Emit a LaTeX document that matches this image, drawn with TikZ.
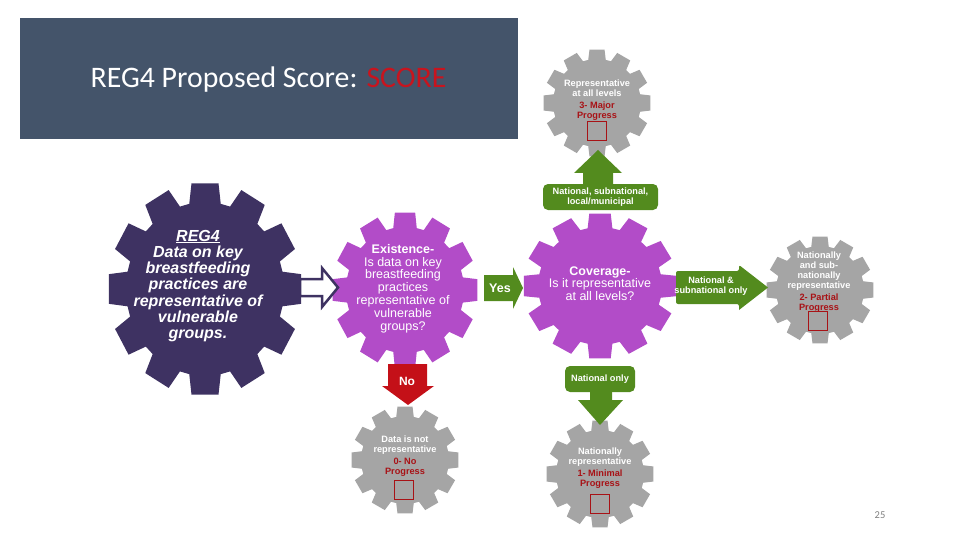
\documentclass[tikz,border=0pt]{standalone}
\usepackage{fontspec}
\setmainfont{Liberation Sans}
\newfontfamily\carlito{Carlito}
\definecolor{hdr}{RGB}{68,84,106}
\definecolor{dpurple}{RGB}{62,50,98}
\definecolor{mpurple}{RGB}{178,76,200}
\definecolor{ggreen}{RGB}{83,139,30}
\definecolor{ggray}{RGB}{165,165,165}
\definecolor{rred}{RGB}{196,16,24}
\definecolor{tred}{RGB}{168,18,22}
\definecolor{scorered}{RGB}{200,20,30}
\newcommand{\drawgear}[6]{% colour, x, y, r inner, r outer, yscale
  \fill[#1, shift={(#2,#3)}, yscale=#6] (-11.5:#4)
    \foreach \k in {0,...,11}{ -- ({\k*30-11.5}:#4) -- ({\k*30-8}:#5) -- ({\k*30+8}:#5) -- ({\k*30+11.5}:#4) } -- cycle;
}
\tikzset{
  gtxt/.style={text=white, font=\bfseries\fontsize{9.2}{10}\selectfont, align=center, inner sep=0pt},
  ptxt/.style={text=white, font=\fontsize{12.5}{12.8}\selectfont, align=center, inner sep=0pt},
  atxt/.style={text=white, font=\bfseries\fontsize{9.2}{10}\selectfont, align=center, inner sep=0pt},
  sqbox/.style={draw=tred, line width=0.9pt, minimum width=19pt, minimum height=19pt, inner sep=0pt},
}
\begin{document}
\begin{tikzpicture}[x=1pt,y=-1pt]
\useasboundingbox (0,0) rectangle (960,540);
% header
\fill[hdr] (20,18) rectangle (518,139);
\node[inner sep=0pt, text=white, font=\carlito\fontsize{29.8}{32}\selectfont] (title) at (268.5,80) {REG4 Proposed Score: \textcolor{scorered}{SCORE}};

% gears
\drawgear{dpurple}{205}{289}{79}{97}{1.1}
\drawgear{mpurple}{405}{290}{59}{73}{1.07}
\drawgear{mpurple}{600}{286}{62}{77}{0.95}
\drawgear{ggray}{597}{103}{44}{54}{1}
\drawgear{ggray}{820}{290}{44}{54}{1}
\drawgear{ggray}{405}{460}{44}{54}{1}
\drawgear{ggray}{600}{474}{44}{54}{1}

% main gear text
\node[text=white, font=\bfseries\itshape\fontsize{16}{16.3}\selectfont, align=center, inner sep=0pt] (reg) at (198,286)
  {\underline{REG4}\\Data on key\\breastfeeding\\practices are\\representative of\\vulnerable\\groups.};

% hollow arrow
\draw[dpurple, line width=2.5pt, fill=white, line join=miter]
  (300,279) coordinate (ha) -- (322,279) -- (322,268) -- (338,287.5) -- (322,307) -- (322,296) -- (300,296) -- cycle;

% existence
\node[ptxt] (exist) at (403,288.5) {\textbf{Existence-}\\Is data on key\\breastfeeding\\practices\\representative of\\vulnerable\\groups?};
% coverage
\node[ptxt] (cover) at (600,283.5) {\textbf{Coverage-}\\Is it representative\\at all levels?};

% yes arrow
\fill[ggreen] (484,275) -- (513,275) -- (513,267) -- (523,288) -- (513,309) -- (513,301) -- (484,301) -- cycle;
\node[text=white, font=\bfseries\fontsize{12.5}{13}\selectfont, inner sep=0pt] (yes) at (500,288.5) {Yes};

% up arrow
\fill[ggreen] (583,186) -- (583,173) -- (574,173) -- (598,150) -- (622,173) -- (613,173) -- (613,186) -- cycle;
\node[fill=ggreen, rounded corners=5pt, minimum width=115pt, minimum height=26pt, inner sep=0pt, atxt] (upbox) at (600.5,197)
  {National, subnational,\\local/municipal};

% right arrow
\fill[ggreen, rounded corners=2pt] (676,271) -- (739,271) -- (739,265) [sharp corners] -- (768,287.5) -- (739,310) [rounded corners=2pt] -- (739,304) -- (676,304) -- cycle;
\node[atxt] (rtxt) at (711,286) {National \&\\subnational only};

% no arrow
\fill[rred] (388,364) -- (427,364) -- (427,386) -- (434,386) -- (408,405) -- (382,386) -- (388,386) -- cycle;
\node[text=white, font=\bfseries\fontsize{12}{13}\selectfont, inner sep=0pt] (no) at (407,381) {No};

% national only arrow
\fill[ggreen] (590,390) -- (612,390) -- (612,400) -- (623,400) -- (600,425) -- (578,400) -- (590,400) -- cycle;
\node[fill=ggreen, rounded corners=5pt, minimum width=70pt, minimum height=26pt, inner sep=0pt, atxt] (nobox) at (600,379) {National only};

% gray gear texts
\node[gtxt] (g3) at (597,100.5) {Representative\\at all levels\\[2pt]\color{tred}3- Major\\\color{tred}Progress};
\node[sqbox] (s3) at (597,131) {};
\node[gtxt] (g2) at (819,282) {Nationally\\and sub-\\nationally\\representative\\[2pt]\color{tred}2- Partial\\\color{tred}Progress};
\node[sqbox] (s2) at (818,321) {};
\node[gtxt] (g0) at (405,456) {Data is not\\representative\\[2pt]\color{tred}0- No\\\color{tred}Progress};
\node[sqbox] (s0) at (404,490) {};
\node[gtxt] (g1) at (600,468) {Nationally\\representative\\[2pt]\color{tred}1- Minimal\\\color{tred}Progress};
\node[sqbox] (s1) at (600,504) {};

% page number
\node[text=gray, font=\carlito\fontsize{10.5}{12}\selectfont, inner sep=0pt] (pg) at (880,515) {25};
\end{tikzpicture}
\end{document}
